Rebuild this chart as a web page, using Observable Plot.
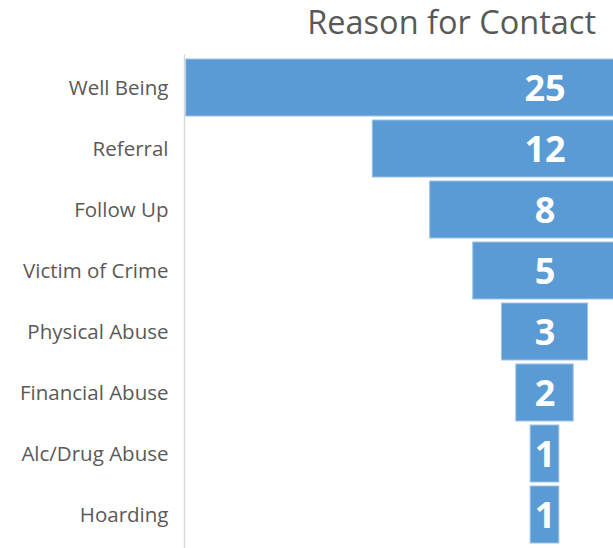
<!DOCTYPE html>
<html>
<head>
<meta charset="utf-8">
<script src="https://cdn.jsdelivr.net/npm/d3@7"></script>
<script src="https://cdn.jsdelivr.net/npm/@observablehq/plot@0.6"></script>
<style>
  html, body { margin: 0; padding: 0; background: #fff; }
  #wrap { width: 613px; height: 548px; overflow: hidden; }
  #title { height: 48px; box-sizing: border-box; font-family: "Open Sans", sans-serif; font-size: 32.5px; color: #595959; text-align: right; padding-right: 17px; line-height: 44px; white-space: nowrap; }
  svg { display: block; }
</style>
</head>
<body>
<div id="wrap">
  <div id="title">Reason for Contact</div>
  <div id="chart"></div>
</div>
<script>
const categories = ["Well Being", "Referral", "Follow Up", "Victim of Crime", "Physical Abuse", "Financial Abuse", "Alc/Drug Abuse", "Hoarding"];
const counts = [25, 12, 8, 5, 3, 2, 1, 1];

const data = categories.map((c, i) => ({category: c, value: counts[i]}));

const chart = Plot.plot({
  width: 613,
  height: 500,
  marginLeft: 184,
  marginRight: 0,
  marginTop: 6.5,
  marginBottom: 0,
  style: {fontFamily: "Open Sans, sans-serif", background: "#fff"},
  x: {domain: [-12.56, 2.387], axis: null},
  y: {domain: categories, paddingInner: 0.068, paddingOuter: 0.034, label: null},
  marks: [
    Plot.barX(data, {
      y: "category",
      x1: d => -d.value / 2,
      x2: d => d.value / 2,
      fill: "#5b9bd5",
      stroke: "#9dc3e6",
      strokeWidth: 1,
      clip: true
    }),
    Plot.text(data, {
      y: "category",
      x: 0,
      text: d => String(d.value),
      fill: "white",
      fontSize: 36,
      fontWeight: "bold",
      dy: 1
    }),
    Plot.axisY({tickSize: 0, tickPadding: 16, fontSize: 20.5, color: "#595959", label: null}),
    Plot.frame({anchor: "left", stroke: "#d9d9d9", strokeWidth: 1.5})
  ]
});
document.getElementById("chart").appendChild(chart);
</script>
</body>
</html>
